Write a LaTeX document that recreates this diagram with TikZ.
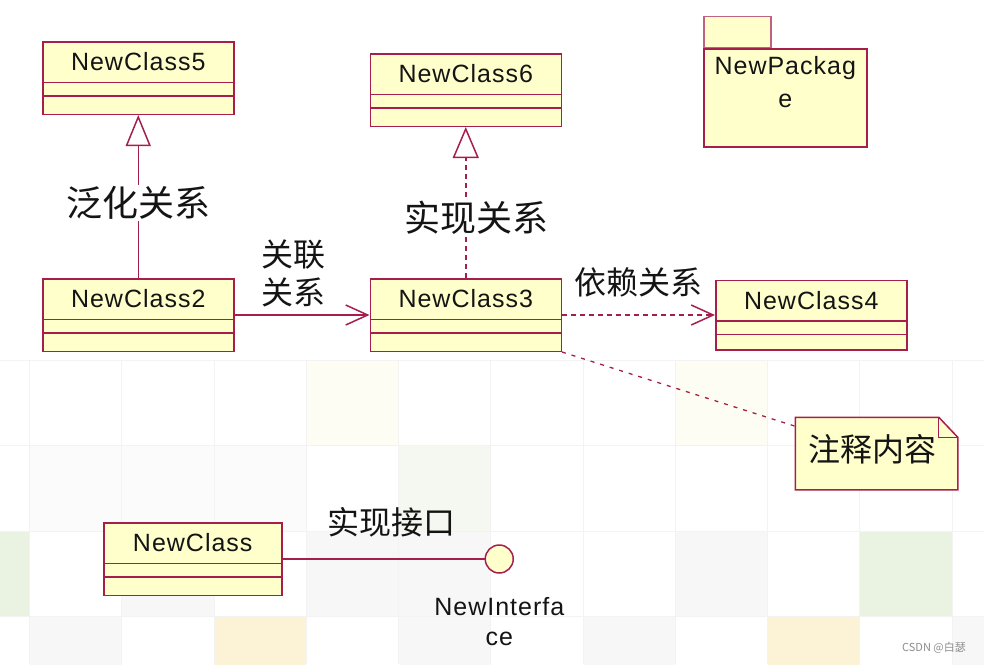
\documentclass[tikz,border=0pt]{standalone}
\usepackage{fontspec}
\setmainfont{Liberation Sans}
\newfontfamily\clsfont[LetterSpace=4]{Liberation Sans}
\newfontfamily\cjk{Noto Sans CJK SC}
\usetikzlibrary{positioning, shapes.multipart, arrows.meta}

\definecolor{umlred}{RGB}{166,30,76}
\definecolor{umlfill}{RGB}{255,255,204}
\definecolor{gridline}{RGB}{243,243,243}
\definecolor{tilegreen}{RGB}{234,242,226}
\definecolor{tilegreenlt}{RGB}{244,248,240}
\definecolor{tileyellow}{RGB}{252,243,214}
\definecolor{tileyellowlt}{RGB}{254,253,244}
\definecolor{tilegray}{RGB}{247,247,247}
\definecolor{tilegraylt}{RGB}{251,251,251}

% class box body: name compartment, attribute and operation compartments
\newcommand{\clsbody}[2][17pt]{\rule[-11pt]{0pt}{39pt}#2\nodepart{two}\rule{0pt}{12pt}\nodepart{three}\rule{0pt}{#1}}

\begin{document}
\begin{tikzpicture}[x=1pt, y=-1pt, line width=1.5pt,
cls/.style = {draw=umlred, fill=umlfill, rectangle split, rectangle split parts=3, minimum width=191pt, inner xsep=0pt, inner ysep=0pt, font=\clsfont\fontsize{25}{30}\selectfont},
pkgbox/.style = {draw=umlred, fill=umlfill, inner sep=0pt},
link/.style = {draw=umlred},
dep/.style = {link, dash pattern=on 5pt off 4pt},
lbl/.style = {font=\cjk\fontsize{32}{38}\selectfont, inner sep=1pt, align=center},
big/.style = {font=\cjk\fontsize{36}{40}\selectfont},
every node/.append style = {text=black!92}]
\useasboundingbox (0,0) rectangle (984,664);

% tiled background at the bottom
\foreach \c/\r/\col in {0/2/tilegreen, 10/2/tilegreen, 5/1/tilegreenlt, 3/3/tileyellow, 9/3/tileyellow,
  1/3/tilegray, 5/3/tilegray, 7/3/tilegray, 11/3/tilegray, 2/2/tilegray, 4/2/tilegray, 5/2/tilegray, 8/2/tilegray,
  1/1/tilegraylt, 2/1/tilegraylt, 3/1/tilegraylt, 4/0/tileyellowlt, 8/0/tileyellowlt}
  \fill[\col] (-62.75+92.25*\c, 360+85.6*\r) rectangle ++(92.25, 85.6);
\foreach \c in {0,...,10}
  \draw[gridline, line width=1pt] (29.5+92.25*\c, 360) -- (29.5+92.25*\c, 664);
\foreach \r in {0,...,3}
  \draw[gridline, line width=1pt] (0, 360+85.6*\r) -- (984, 360+85.6*\r);

% classes
\node[cls, anchor=north west] (c2) at (42,278) {\clsbody{NewClass2}};
\node[cls] (c3) [right=135pt of c2] {\clsbody{NewClass3}};
\node[cls] (c4) [right=153pt of c3] {\clsbody[14pt]{NewClass4}};
\node[cls] (c5) [above=163pt of c2] {\clsbody{NewClass5}};
\node[cls] (c6) [above=151pt of c3] {\clsbody{NewClass6}};
\node[cls, minimum width=178pt, anchor=north west] (nc) at (103,522) {\clsbody{NewClass}};

% package
\node[pkgbox, draw=umlred!70, minimum width=67pt, minimum height=31pt, anchor=south west] (pkgtab) at (703,48) {};
\node[pkgbox, minimum width=163pt, minimum height=98pt, anchor=north west] (pkg) at (pkgtab.south west) {};
\node[font=\clsfont\fontsize{25}{33}\selectfont, align=center, anchor=north] (pkgname) at ([yshift=-4pt]pkg.north) {NewPackag\\e};

% note
\node[minimum width=161pt, minimum height=71pt] (note) at (876.5,453.5) {};
\draw[link, fill=umlfill] (note.north west) -- ([xshift=-19pt]note.north east) -- ([yshift=-20pt]note.north east)
  -- (note.south east) -- (note.south west) -- cycle;
\draw[link, line width=1.2pt] ([xshift=-19pt]note.north east) -- ([xshift=-19pt, yshift=-20pt]note.north east) -- ([yshift=-20pt]note.north east);
\node[lbl] (notetxt) at ([xshift=-4pt, yshift=4pt]note.center) {注释内容};

% interface
\node[draw=umlred, fill=umlfill, circle, minimum size=28pt, inner sep=0pt] (ni) [right=202pt of nc] {};
\node[font=\clsfont\fontsize{25}{30}\selectfont, align=center, below=20pt of ni] (niname) {NewInterfa\\ce};

% relations
\draw[link, -{Triangle[open, length=31pt, width=25pt]}] (c2.north) -- node[big, fill=white, inner sep=1pt, pos=0.46] {泛化关系} (c5.south);
\draw[dep, -{Triangle[open, length=31pt, width=26pt]}] (c3.north) -- node[big, fill=white, inner sep=1pt, pos=0.40, xshift=11pt] {实现关系} (c6.south);
\draw[link, -{Straight Barb[length=22pt, width=20pt]}] (c2.east) -- node[lbl, xshift=-9pt, yshift=42pt] {关联\\关系} (c3.west);
\draw[dep, -{Straight Barb[length=22pt, width=20pt]}] (c3.east) -- node[lbl, yshift=33pt] {依赖关系} (c4.west);
\draw[link, dash pattern=on 4pt off 6pt, line width=1.3pt] (c3.south east) -- ([yshift=-9pt]note.north west);
\draw[link] (nc.east) -- node[lbl, xshift=8pt, yshift=37pt] {实现接口} (ni.west);

% watermark
\node[font=\cjk\fontsize{11}{13}\selectfont, text=black!45] (mark) at (934,648) {CSDN @白瑟};
\end{tikzpicture}
\end{document}
